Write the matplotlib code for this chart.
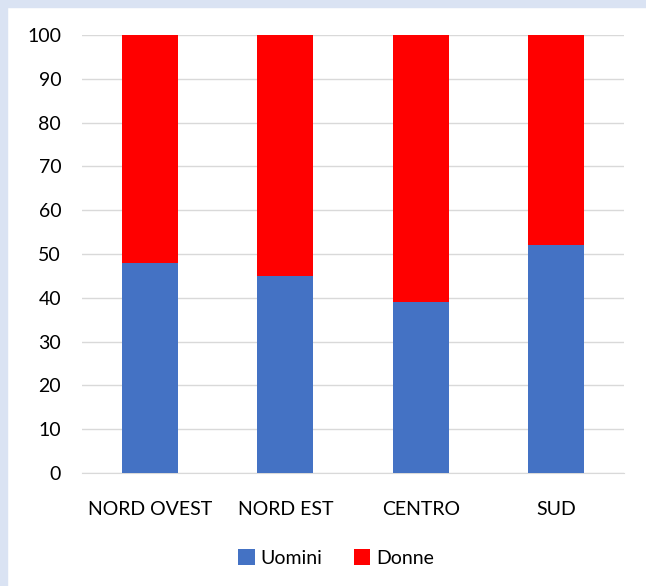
import matplotlib
matplotlib.use("Agg")
import matplotlib.pyplot as plt
from matplotlib.patches import Rectangle

# Data
regions = ["NORD OVEST", "NORD EST", "CENTRO", "SUD"]
uomini = [48, 45, 39, 52]
donne = [52, 55, 61, 48]

plt.rcParams["font.family"] = ["Lato", "DejaVu Sans"]

W, H = 646, 586
fig = plt.figure(figsize=(W / 100, H / 100), dpi=100)
ax = fig.add_axes([82 / W, 1 - 473 / H, (624 - 82) / W, (473 - 35) / H])

x = range(len(regions))
ax.bar(x, uomini, width=0.41, color="#4472C4", label="Uomini", zorder=3)
ax.bar(x, donne, width=0.41, bottom=uomini, color="#FF0000", label="Donne", zorder=3)

ax.set_ylim(0, 100)
ax.set_xlim(-0.5, len(regions) - 0.5)
ax.set_yticks(range(0, 101, 10))
ax.set_xticks(list(x))
ax.set_xticklabels(regions)
ax.tick_params(axis="both", length=0, labelsize=14, colors="black")
ax.tick_params(axis="y", pad=15)
ax.tick_params(axis="x", pad=20)
ax.grid(axis="y", color="#D9D9D9", lw=1, zorder=0)
for s in ["top", "right", "left"]:
    ax.spines[s].set_visible(False)
ax.spines["bottom"].set_color("#D9D9D9")

fig.legend(loc="center", bbox_to_anchor=(336 / W, 1 - 558 / H), ncol=2, frameon=False,
           fontsize=14, handlelength=0.85, handleheight=0.85, handletextpad=0.3,
           columnspacing=1.6)

# light frame on the left and top edge of the screenshot
fig.patches.append(Rectangle((0, 0), 7 / W, 1, transform=fig.transFigure,
                             color="#DAE3F3", zorder=10))
fig.patches.append(Rectangle((0, 1 - 7 / H), 1, 7 / H, transform=fig.transFigure,
                             color="#DAE3F3", zorder=10))

fig.savefig("out.png", dpi=100)
